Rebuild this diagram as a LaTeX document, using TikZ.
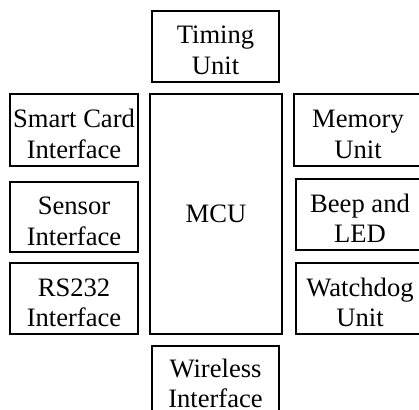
\documentclass[tikz,border=0pt]{standalone}
\usepackage{fontspec}
\setmainfont{Liberation Serif}
\begin{document}
\begin{tikzpicture}[x=1pt,y=-1pt,
  unitbox/.style={draw, line width=1.9pt, align=center, inner sep=0pt,
    minimum width=128pt, minimum height=71pt,
    text height=56pt, text depth=0pt,
    font=\fontsize{26.6}{30.5}\selectfont},
  corebox/.style={draw, line width=1.9pt, inner sep=0pt,
    minimum width=132pt, minimum height=240pt,
    font=\fontsize{26.6}{30.5}\selectfont},
]
\useasboundingbox (0,0) rectangle (419,409);
\clip (0,0) rectangle (419,409);
% central controller
\node[corebox] (mcu) at (216,214) {MCU};
% top and bottom blocks
\node[unitbox, minimum width=127pt] (timing) at (215.5,46.5) {Timing\\Unit};
\node[unitbox, minimum width=127pt, text height=52pt] (wireless) at (215.5,381.5) {Wireless\\Interface};
% left column
\node[unitbox, minimum height=72pt] (smartcard) at (74,130) {Smart Card\\Interface};
\node[unitbox, minimum height=70pt] (sensor) at (74,217) {Sensor\\Interface};
\node[unitbox] (rs232) at (74,298.5) {RS232\\Interface};
% right column
\node[unitbox, minimum height=72pt] (memory) at (358,130) {Memory\\Unit};
\node[unitbox] (beep) at (360,214.5) {Beep and\\LED};
\node[unitbox] (watchdog) at (360,298.5) {Watchdog\\Unit};
\end{tikzpicture}
\end{document}
